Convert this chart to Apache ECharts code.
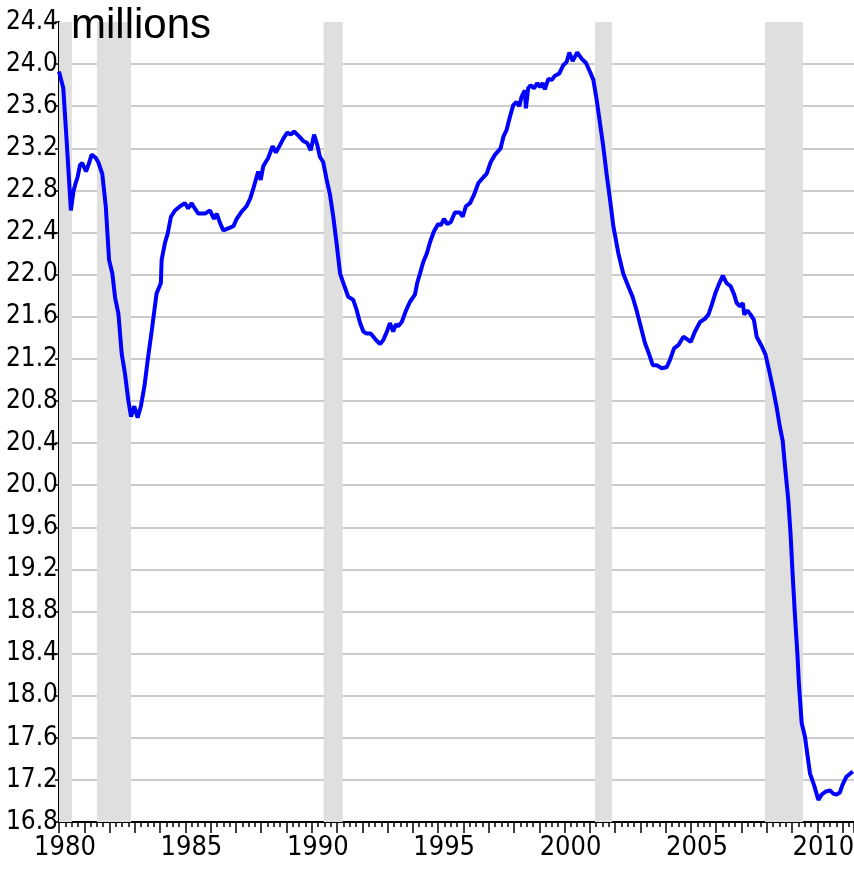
<!DOCTYPE html>
<html>
<head>
<meta charset="utf-8">
<script src="https://cdn.jsdelivr.net/npm/echarts@6/dist/echarts.min.js"></script>
<style>
  html, body { margin: 0; padding: 0; background: #fff; }
  #chart { width: 854px; height: 869px; }
</style>
</head>
<body>
<div id="chart"></div>
<script>
var years = [
  1980.00, 1980.17, 1980.30, 1980.47, 1980.57, 1980.66, 1980.74, 1980.83, 1980.92,
  1981.07, 1981.19, 1981.29, 1981.45, 1981.55, 1981.71, 1981.85, 1981.98,
  1982.11, 1982.22, 1982.35, 1982.48, 1982.61, 1982.74, 1982.85, 1982.98,
  1983.11, 1983.24, 1983.38, 1983.51, 1983.67, 1983.86,
  1984.03, 1984.06, 1984.19, 1984.30, 1984.43, 1984.59, 1984.79, 1984.98,
  1985.11, 1985.25, 1985.31, 1985.51, 1985.78, 1985.97,
  1986.13, 1986.24, 1986.37, 1986.50, 1986.70, 1986.90,
  1987.03, 1987.23, 1987.42, 1987.56, 1987.69, 1987.88, 1987.98,
  1988.08, 1988.28, 1988.45, 1988.58, 1988.74, 1988.87,
  1989.03, 1989.17, 1989.30, 1989.47, 1989.66, 1989.82, 1989.96,
  1990.09, 1990.22, 1990.32, 1990.45, 1990.59, 1990.72, 1990.85, 1990.98,
  1991.12, 1991.25, 1991.44, 1991.64, 1991.78, 1991.91,
  1992.04, 1992.17, 1992.33, 1992.50, 1992.70, 1992.83, 1992.99,
  1993.09, 1993.22, 1993.33, 1993.42, 1993.56, 1993.73, 1993.88,
  1994.08, 1994.17, 1994.28, 1994.41, 1994.55, 1994.68, 1994.83,
  1995.00, 1995.11, 1995.23, 1995.36, 1995.50, 1995.66, 1995.86, 1995.97,
  1996.10, 1996.26, 1996.42, 1996.59, 1996.77, 1996.92,
  1997.08, 1997.25, 1997.47, 1997.58, 1997.70, 1997.84, 1997.97,
  1998.10, 1998.21, 1998.30, 1998.43, 1998.47, 1998.56, 1998.66, 1998.79, 1998.92,
  1999.03, 1999.13, 1999.22, 1999.36, 1999.49, 1999.62, 1999.79, 1999.95,
  2000.08, 2000.19, 2000.32, 2000.50, 2000.68, 2000.85,
  2001.00, 2001.14, 2001.27, 2001.40, 2001.53, 2001.66, 2001.80, 2001.93,
  2002.13, 2002.32, 2002.52, 2002.69, 2002.85,
  2003.01, 2003.18, 2003.35, 2003.49, 2003.64, 2003.84,
  2004.04, 2004.17, 2004.33, 2004.50, 2004.70, 2004.83, 2004.99,
  2005.16, 2005.36, 2005.55, 2005.69, 2005.82, 2005.96,
  2006.09, 2006.26, 2006.41, 2006.57, 2006.71, 2006.81, 2006.94,
  2007.05, 2007.11, 2007.23, 2007.36, 2007.49, 2007.60, 2007.80, 2007.95,
  2008.12, 2008.26, 2008.39, 2008.52, 2008.63, 2008.72, 2008.85, 2008.94,
  2009.02, 2009.11, 2009.21, 2009.27, 2009.38, 2009.51, 2009.60, 2009.71, 2009.87,
  2010.04, 2010.17, 2010.34, 2010.50, 2010.63, 2010.76, 2010.89, 2010.99,
  2011.15, 2011.40
];
var jobs = [
  23.93, 23.77, 23.28, 22.61, 22.79, 22.87, 22.93, 23.04, 23.06,
  22.98, 23.06, 23.14, 23.11, 23.07, 22.96, 22.65, 22.14,
  22.01, 21.78, 21.63, 21.25, 21.06, 20.81, 20.65, 20.75,
  20.64, 20.75, 20.94, 21.19, 21.47, 21.82,
  21.92, 22.14, 22.30, 22.39, 22.55, 22.61, 22.65, 22.68,
  22.63, 22.68, 22.65, 22.58, 22.58, 22.61,
  22.53, 22.58, 22.49, 22.42, 22.44, 22.46,
  22.53, 22.60, 22.65, 22.72, 22.82, 22.98, 22.90,
  23.03, 23.11, 23.22, 23.16, 23.23, 23.29,
  23.35, 23.33, 23.36, 23.32, 23.27, 23.25, 23.18,
  23.33, 23.23, 23.12, 23.07, 22.90, 22.76, 22.55, 22.30,
  22.01, 21.92, 21.79, 21.76, 21.66, 21.54,
  21.46, 21.44, 21.44, 21.39, 21.34, 21.38, 21.47,
  21.54, 21.46, 21.53, 21.51, 21.55, 21.66, 21.74,
  21.81, 21.92, 22.01, 22.12, 22.20, 22.31, 22.41,
  22.48, 22.47, 22.53, 22.48, 22.50, 22.59, 22.59, 22.55,
  22.65, 22.68, 22.76, 22.87, 22.92, 22.96,
  23.07, 23.14, 23.20, 23.31, 23.37, 23.50, 23.61,
  23.64, 23.60, 23.69, 23.75, 23.58, 23.77, 23.80, 23.77, 23.82,
  23.78, 23.82, 23.76, 23.86, 23.85, 23.89, 23.91, 23.99,
  24.02, 24.11, 24.03, 24.11, 24.05, 24.01,
  23.93, 23.85, 23.66, 23.44, 23.22, 22.96, 22.71, 22.46,
  22.20, 22.01, 21.89, 21.79, 21.66,
  21.51, 21.35, 21.24, 21.14, 21.14, 21.11,
  21.12, 21.19, 21.30, 21.33, 21.41, 21.39, 21.36,
  21.46, 21.55, 21.58, 21.62, 21.71, 21.82,
  21.90, 21.99, 21.92, 21.89, 21.81, 21.73, 21.70,
  21.73, 21.62, 21.66, 21.62, 21.57, 21.41, 21.32, 21.24,
  21.06, 20.90, 20.74, 20.55, 20.42, 20.18, 19.86, 19.54,
  19.16, 18.78, 18.40, 18.12, 17.74, 17.61, 17.45, 17.26, 17.15,
  17.01, 17.06, 17.09, 17.10, 17.07, 17.06, 17.08, 17.15,
  17.23, 17.28
];
// shaded recessions, start and end as decimal years
var recessions = [
  [1980.00, 1980.51],
  [1981.50, 1982.85],
  [1990.47, 1991.22],
  [2001.20, 2001.88],
  [2007.93, 2009.43]
];

var narrow = "'Liberation Sans Narrow', 'DejaVu Sans Condensed', sans-serif";

var points = years.map(function (y, i) { return [y, jobs[i]]; });

// last split line (at the top) is hidden
var gridColors = [];
for (var k = 0; k < 19; k++) gridColors.push('#cbcbcb');
gridColors.push('rgba(0,0,0,0)');

var chart = echarts.init(document.getElementById('chart'), null, { renderer: 'canvas' });
chart.setOption({
  animation: false,
  backgroundColor: '#fff',
  title: {
    text: 'millions',
    left: 66,
    top: 0,
    textStyle: { fontFamily: "'Liberation Sans', Arial, sans-serif", fontSize: 42, fontWeight: 'normal', color: '#000' }
  },
  grid: { left: 59, right: 0, top: 22, bottom: 47, outerBoundsMode: 'none', containLabel: false },
  xAxis: {
    type: 'value',
    min: 1980,
    max: 2011.45,
    interval: 1,
    axisLine: { lineStyle: { color: '#000', width: 2 } },
    axisTick: { show: true, length: 11, lineStyle: { color: '#000', width: 1.5 } },
    minorTick: { show: true, splitNumber: 4, length: 5, lineStyle: { color: '#000', width: 1.5 } },
    splitLine: { show: false },
    axisLabel: {
      margin: 12,
      padding: [0, 0, 0, 12],
      fontFamily: narrow,
      fontSize: 27,
      color: '#000',
      formatter: function (v) { return v % 5 === 0 ? String(v) : ''; }
    }
  },
  yAxis: {
    type: 'value',
    min: 16.8,
    max: 24.4,
    interval: 0.4,
    axisLine: { show: true, lineStyle: { color: '#000', width: 2 } },
    axisTick: { show: true, length: 4, lineStyle: { color: '#000', width: 1.5 } },
    splitLine: { show: true, lineStyle: { color: gridColors, width: 2 } },
    axisLabel: {
      margin: 1,
      fontFamily: narrow,
      fontSize: 26,
      color: '#000',
      formatter: function (v) { return v.toFixed(1); }
    }
  },
  series: [
    {
      name: 'recessions',
      type: 'line',
      z: -1,
      silent: true,
      symbol: 'none',
      data: points,
      lineStyle: { opacity: 0 },
      markArea: {
        silent: true,
        itemStyle: { color: '#dfdfdf' },
        data: recessions.map(function (r) { return [{ xAxis: r[0] }, { xAxis: r[1] }]; })
      }
    },
    {
      name: 'millions',
      type: 'line',
      z: 5,
      symbol: 'none',
      data: points,
      lineStyle: { color: '#0000ff', width: 4 }
    }
  ]
});
</script>
</body>
</html>
